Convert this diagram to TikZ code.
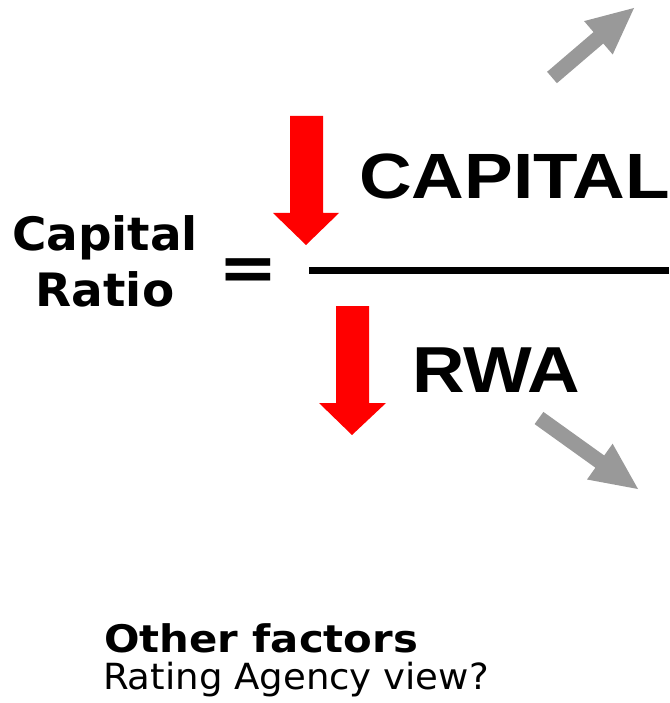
\documentclass[tikz,border=0pt]{standalone}
\usepackage{fontspec}
\newfontfamily\vfont{DejaVu Sans}
\newfontfamily\afont{Liberation Sans}
\definecolor{arrred}{HTML}{FF0000}
\definecolor{arrgray}{HTML}{999999}
\begin{document}
\begin{tikzpicture}[x=1pt,y=-1pt,
  txt/.style={inner sep=0pt,outer sep=0pt,text=black},
  redarr/.style={fill=arrred,draw=none},
  grayarr/.style={fill=arrgray,draw=none}]
\useasboundingbox (0,0) rectangle (669,703);
% left label
\node[txt,anchor=base] (cap) at (105,250) {\scalebox{1.02}[1]{\vfont\bfseries\fontsize{46}{56}\selectfont Capital}};
\node[txt,anchor=base] (rat) at (105,306) {\scalebox{1.02}[1]{\vfont\bfseries\fontsize{46}{56}\selectfont Ratio}};
\node[txt,anchor=base] (eq) at (248.5,290) {\scalebox{1.08}[1]{\vfont\bfseries\fontsize{66}{72}\selectfont =}};
% fraction bar
\fill (309,267) rectangle (669,274);
% numerator / denominator
\node[txt,anchor=base west] (num) at (359,199) {\scalebox{1.14}[1]{\afont\bfseries\fontsize{64}{70}\selectfont CAPITAL}};
\node[txt,anchor=base west] (den) at (412,392) {\scalebox{1.12}[1]{\afont\bfseries\fontsize{65}{70}\selectfont RWA}};
% red arrows
\fill[redarr] (290,116) -- (323,116) -- (323,213) -- (339,213) -- (306,245) -- (273,213) -- (290,213) -- cycle;
\fill[redarr] (336,306) -- (369,306) -- (369,403) -- (386,403) -- (352,435) -- (319,403) -- (336,403) -- cycle;
% gray arrows
\fill[grayarr] (547.1,71.8) -- (593.5,32.1) -- (584.1,21.1) -- (634,8) -- (612.7,54.5) -- (603.3,43.5) -- (556.9,83.2) -- cycle;
\fill[grayarr] (543.4,411.9) -- (604.2,455.5) -- (612.6,443.7) -- (638,489) -- (587,479.5) -- (595.4,467.7) -- (534.6,424.1) -- cycle;
% other factors
\node[txt,anchor=base west] (of) at (104,652) {\scalebox{1.1}[1]{\vfont\bfseries\fontsize{38}{44}\selectfont Other factors}};
\node[txt,anchor=base west] (rav) at (103,689) {\scalebox{1.03}[1]{\vfont\fontsize{36}{42}\selectfont Rating Agency view?}};
\end{tikzpicture}
\end{document}
